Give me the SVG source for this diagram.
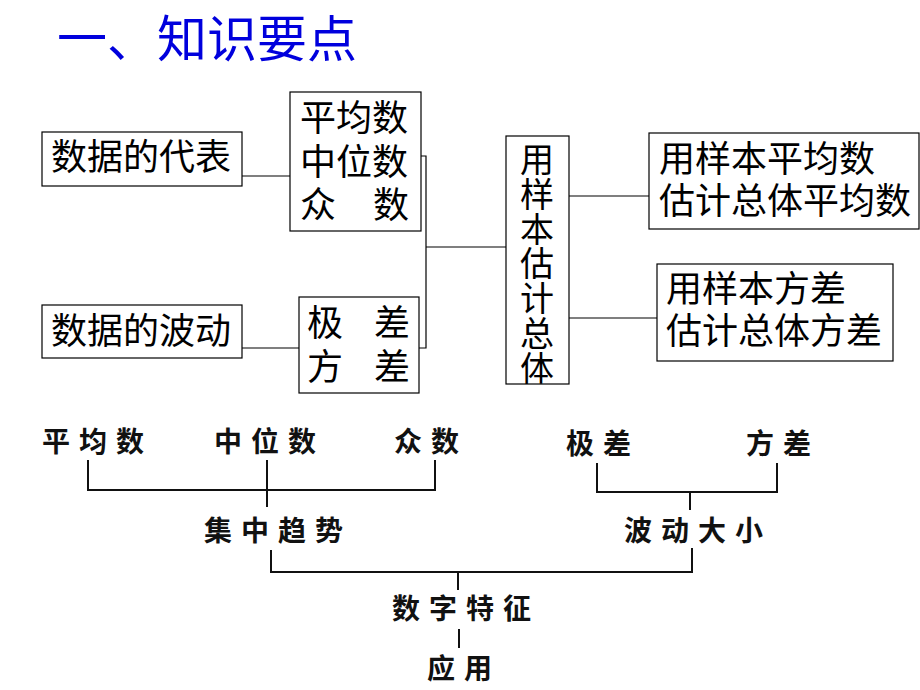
<svg xmlns="http://www.w3.org/2000/svg" width="920" height="690" viewBox="0 0 920 690">
<style>
.box{fill:#fff;stroke:#000;stroke-width:1.2}
.t{font-family:"Noto Sans CJK SC","Noto Sans CJK TC",sans-serif;font-size:36px;fill:#000}
.b{font-family:"Noto Sans CJK SC","Noto Sans CJK TC",sans-serif;font-size:28px;font-weight:bold;fill:#111;letter-spacing:9px}
.c{stroke:#000;stroke-width:1.2;fill:none}
.c2{stroke:#111;stroke-width:2;fill:none}
</style>
<rect width="920" height="690" fill="#fff"/>
<text x="57" y="57" style="font-family:'Noto Sans CJK SC',sans-serif;font-size:50px;fill:#0000dd">一、知识要点</text>

<g id="connectors">
<path class="c" d="M195 176H290"/>
<path class="c" d="M195 348H299"/>
<path class="c" d="M400 156H426V348H400"/>
<path class="c" d="M426 247H506"/>
<path class="c" d="M553 196H649"/>
<path class="c" d="M553 318H657"/>
<path class="c2" d="M88 460V490H435V460"/>
<path class="c2" d="M267 460V507"/>
<path class="c2" d="M597 463V492H777V463"/>
<path class="c2" d="M690 492V510"/>
<path class="c2" d="M271 550V572H692V548"/>
<path class="c2" d="M458 572V590"/>
<path class="c2" d="M459 629V648"/>
</g>

<g id="n-daibiao"><rect class="box" x="42" y="132" width="200" height="54"/><text class="t" x="51" y="170">数据的代表</text></g>
<g id="n-bodong"><rect class="box" x="42" y="305" width="200" height="53"/><text class="t" x="51" y="344">数据的波动</text></g>
<g id="n-shu"><rect class="box" x="290" y="92" width="131" height="139"/>
<text class="t"><tspan x="300" y="131">平均数</tspan><tspan x="300" y="175">中位数</tspan><tspan x="300 336 373" y="218">众　数</tspan></text></g>
<g id="n-cha"><rect class="box" x="299" y="297" width="120" height="96"/>
<text class="t"><tspan x="307 343 374" y="336">极　差</tspan><tspan x="307 343 374" y="380">方　差</tspan></text></g>
<g id="n-guji"><rect class="box" x="506" y="136" width="63" height="248"/>
<text class="t" style="font-size:34px;writing-mode:vertical-rl;letter-spacing:0.8px" x="537" y="142">用样本估计总体</text></g>
<g id="n-pingjun"><rect class="box" x="649" y="133" width="270" height="96"/>
<text class="t"><tspan x="659" y="172">用样本平均数</tspan><tspan x="659" y="214">估计总体平均数</tspan></text></g>
<g id="n-fangcha"><rect class="box" x="657" y="264" width="236" height="97"/>
<text class="t"><tspan x="666" y="302">用样本方差</tspan><tspan x="666" y="344">估计总体方差</tspan></text></g>

<g id="b-pingjunshu"><text class="b" x="42" y="452">平均数</text></g>
<g id="b-zhongweishu"><text class="b" x="214" y="452">中位数</text></g>
<g id="b-zhongshu"><text class="b" x="394" y="452">众数</text></g>
<g id="b-jicha"><text class="b" x="566" y="454">极差</text></g>
<g id="b-fangcha"><text class="b" x="746" y="454">方差</text></g>
<g id="b-jizhong"><text class="b" x="204" y="541">集中趋势</text></g>
<g id="b-bodong"><text class="b" x="624" y="541">波动大小</text></g>
<g id="b-shuzi"><text class="b" x="392" y="619">数字特征</text></g>
<g id="b-yingyong"><text class="b" x="427" y="679">应用</text></g>
</svg>
